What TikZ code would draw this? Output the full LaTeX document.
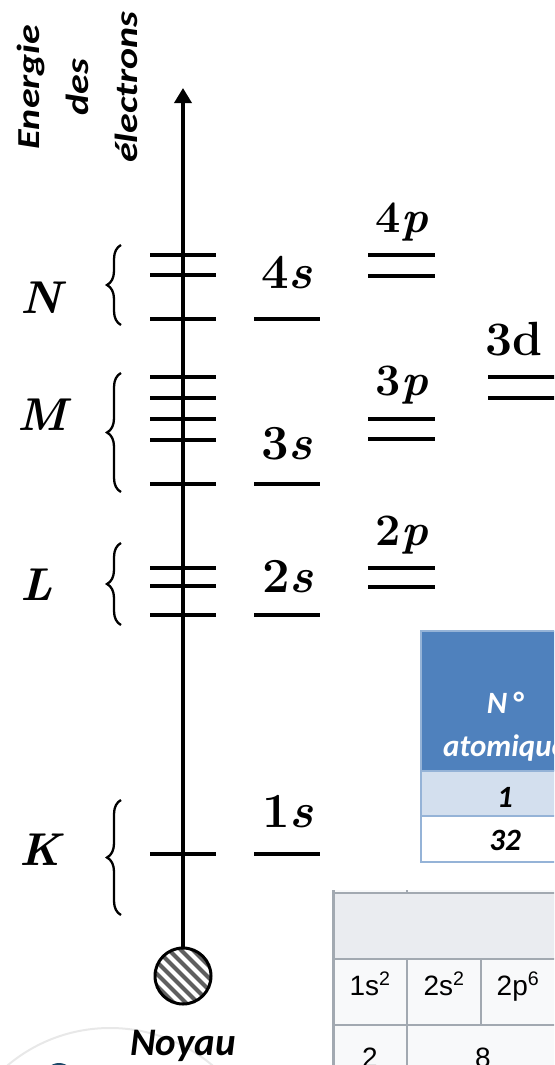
\documentclass[tikz,border=0pt]{standalone}
\usepackage{fontspec}
\newfontfamily\calibri{Carlito}
\newfontfamily\arial{Liberation Sans}
\usepackage{tikz}
\usetikzlibrary{arrows.meta, positioning, calc, decorations.pathreplacing}
\definecolor{tblblue}{RGB}{79, 129, 189}
\definecolor{tbledge}{RGB}{149, 179, 215}
\definecolor{tblrow}{RGB}{211, 223, 238}
\definecolor{wikigray}{RGB}{234, 236, 240}
\definecolor{wikiedge}{RGB}{162, 169, 177}
\definecolor{wikicell}{RGB}{248, 249, 250}
\definecolor{hatchgray}{RGB}{95, 95, 95}
\definecolor{logonavy}{RGB}{28, 72, 104}
\newcommand{\orb}[2]{#1\textit{#2}}
\tikzset{
  >=Triangle,
  axisarrow/.style={-{Triangle[length=15pt, width=17pt]}, line width=3.5pt},
  level/.style={line width=3.5pt},
  shellbrace/.style={decorate, decoration={brace, amplitude=14pt}, line width=2.3pt},
  orbs/.style={anchor=base, inner sep=0pt, font=\fontsize{49}{55}\selectfont\bfseries},
  orbp/.style={anchor=base, inner sep=0pt, font=\fontsize{45}{50}\selectfont\bfseries},
  shell/.style={inner sep=0pt, font=\fontsize{46}{50}\selectfont\bfseries\itshape},
  axislabel/.style={rotate=90, xscale=1.25, align=center, font=\calibri\bfseries\itshape\fontsize{32}{49}\selectfont},
  tbltext/.style={inner sep=0pt, font=\calibri\bfseries\itshape\fontsize{31}{34}\selectfont},
  wikitext/.style={anchor=base, inner sep=0pt, font=\arial\fontsize{28}{30}\selectfont}
}

\begin{document}
\begin{tikzpicture}[x=1pt, y=-1pt, thick]
    \useasboundingbox (0,0) rectangle (554,1065);
    \clip (0,0) rectangle (554,1065);

    % background pieces cut by the frame
    \draw[black!9, line width=2pt] (110,1187) circle (159);
    \fill[logonavy] (59,1078) ellipse (15 and 15);

    \fill[tblblue] (421,631) rectangle (570,771);
    \fill[tblrow] (421,771) rectangle (570,816);
    \draw[tbledge, line width=2pt] (570,631) -- (421,631) -- (421,862) -- (570,862);
    \draw[tbledge, line width=2pt] (421,771) -- (570,771) (421,816) -- (570,816);
    \node[tbltext, white] (numero) at (505,703) {N\,°};
    \node[tbltext, white] (atomique) at (505,748) {atomique};
    \node[tbltext] (zun) at (505,797) {1};
    \node[tbltext] (zge) at (505,840) {32};

    \fill[wikicell] (333,890) rectangle (570,1070);
    \fill[wikigray] (333,893) rectangle (570,959);
    \draw[wikiedge, line width=1.5pt] (333,893) -- (570,893) (333,959) -- (570,959) (333,1025) -- (570,1025);
    \draw[wikiedge, line width=1.5pt] (407,890) -- (407,893) (407,959) -- (407,1070) (481,959) -- (481,1025);
    \draw[wikiedge, line width=3pt] (333,890) -- (333,1070);
    \node[wikitext] (c1s) at (370,995) {1s\textsuperscript{2}};
    \node[wikitext] (c2s) at (444,995) {2s\textsuperscript{2}};
    \node[wikitext] (c2p) at (518,995) {2p\textsuperscript{6}};
    \node[wikitext] (nk) at (370,1067) {2};
    \node[wikitext] (nl) at (483,1067) {8};

    % nucleus and energy axis
    \coordinate (c) at (183,976);
    \begin{scope}
      \clip (c) circle (27);
      \foreach \d in {-84,-72,...,84}
        \draw[hatchgray, line width=4pt] ($(c)+(\d-40,-40)$) -- ($(c)+(\d+40,40)$);
    \end{scope}
    \node (noyau) [circle, draw, line width=3pt, minimum size=56pt, inner sep=0pt] at (c) {};
    \coordinate (top) at (183,88);
    \draw[axisarrow] (noyau) -- (top);
    \node[font=\calibri\bfseries\itshape\fontsize{39}{42}\selectfont, anchor=base] (noyaulbl) at (183,1055) {Noyau};
    \node[axislabel] (energie) at (77,87) {Energie\\des\\électrons};

    \foreach \y in {255,275,319,377,398,419,440,484,568,586,615,854}
      \draw[level] (150,\y) -- (216,\y);
    \foreach \y in {319,484,615,854}
      \draw[level] (254,\y) -- (320,\y);
    \foreach \y in {255,276,419,439,568,587}
      \draw[level] (368,\y) -- (435,\y);
    \foreach \y in {377,398}
      \draw[level] (488,\y) -- (560,\y);

    \draw[shellbrace] (121,325) -- (121,245);
    \draw[shellbrace] (121,492) -- (121,373);
    \draw[shellbrace] (121,625) -- (121,543);
    \draw[shellbrace] (121,915) -- (121,800);

    \node[shell] (N) at (41,298) {N};
    \node[shell] (M) at (42,415) {M};
    \node[shell] (L) at (37,585) {L};
    \node[shell] (K) at (40,850) {K};

    \node[orbs] (s4) at (287,288) {\orb{4}{s}};
    \node[orbs] (s3) at (287,459) {\orb{3}{s}};
    \node[orbs] (s2) at (288,592) {\orb{2}{s}};
    \node[orbs] (s1) at (288,827) {\orb{1}{s}};
    \node[orbp] (p4) at (402,232) {\orb{4}{p}};
    \node[orbp] (p3) at (402,395) {\orb{3}{p}};
    \node[orbp] (p2) at (402,545) {\orb{2}{p}};
    \node[orbs, font=\fontsize{48}{50}\selectfont\bfseries] (d3) at (514,355) {3d};
\end{tikzpicture}
\end{document}
